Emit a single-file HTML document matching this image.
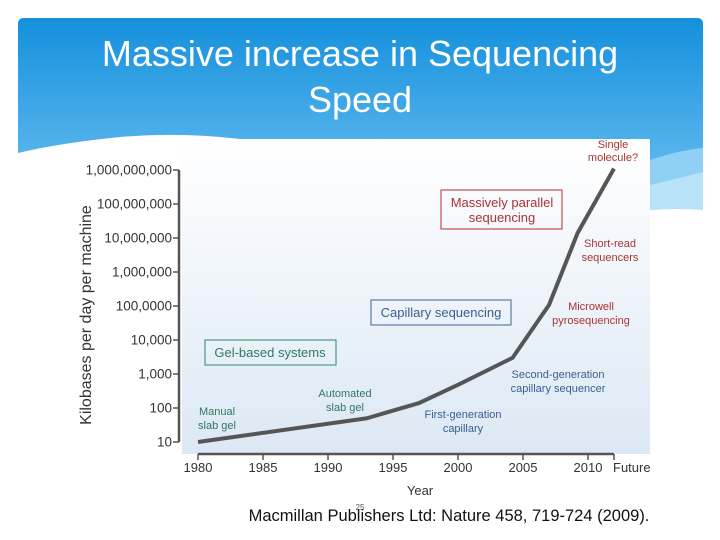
<!DOCTYPE html>
<html><head><meta charset="utf-8"><style>
body{margin:0;width:720px;height:540px;overflow:hidden;background:#fff;font-family:"Liberation Sans",sans-serif;}
#slide{position:relative;width:720px;height:540px;}
svg{position:absolute;left:0;top:0;}
</style></head><body>
<div id="slide">
<svg width="720" height="540">
<defs>
<linearGradient id="hdr" x1="0" y1="0" x2="0" y2="1"><stop offset="0" stop-color="#1490dc"/><stop offset="1" stop-color="#66bdf0"/></linearGradient>
<linearGradient id="plot" x1="0" y1="0" x2="0" y2="1"><stop offset="0" stop-color="#ffffff"/><stop offset="1" stop-color="#dce8f4"/></linearGradient>
</defs>
<path d="M18,24 Q18,18 24,18 L697,18 Q703,18 703,24 L703,190 L650,190 L650,139 L240,139 Q180,132 120,137 Q60,143 18,153 Z" fill="url(#hdr)"/>
<path d="M650,160 Q680,150 703,148 L703,190 L650,190 Z" fill="#8fd0f4"/>
<path d="M650,185 Q680,178 703,172 L703,210 Q680,208 650,210 Z" fill="#b8e2f8"/>
<text x="360" y="66" text-anchor="middle" font-size="36" fill="#fff">Massive increase in Sequencing</text>
<text x="360" y="112" text-anchor="middle" font-size="36" fill="#fff">Speed</text>
<rect x="182" y="139" width="468" height="315" fill="url(#plot)"/>
<g id="axes"></g>
<g id="marks"></g>
<text transform="translate(91,315) rotate(-90)" text-anchor="middle" font-size="16" fill="#333">Kilobases per day per machine</text>
<text x="420" y="495" text-anchor="middle" font-size="13" fill="#333">Year</text>
<g font-size="12">
<rect x="441" y="190" width="121" height="39" fill="none" stroke="#c0504d" stroke-width="1.2"/>
<text x="502" y="207" text-anchor="middle" font-size="13" fill="#a33">Massively parallel</text>
<text x="502" y="222" text-anchor="middle" font-size="13" fill="#a33">sequencing</text>
<rect x="371" y="300" width="140" height="25" fill="none" stroke="#5a7ca8" stroke-width="1.2"/>
<text x="441" y="317" text-anchor="middle" font-size="13" fill="#3a5f8f">Capillary sequencing</text>
<rect x="205" y="340" width="131" height="25" fill="none" stroke="#4a9a7a" stroke-width="1.2"/>
<text x="270" y="357" text-anchor="middle" font-size="13" fill="#2f7a5c">Gel-based systems</text>
<g font-size="11" text-anchor="middle">
<text x="613" y="148" fill="#a33">Single</text><text x="613" y="161" fill="#a33">molecule?</text>
<text x="610" y="247" fill="#a33">Short-read</text><text x="610" y="261" fill="#a33">sequencers</text>
<text x="591" y="310" fill="#a33">Microwell</text><text x="591" y="324" fill="#a33">pyrosequencing</text>
<text x="558" y="378" fill="#3a5f8f">Second-generation</text><text x="558" y="392" fill="#3a5f8f">capillary sequencer</text>
<text x="463" y="418" fill="#3a5f8f">First-generation</text><text x="463" y="432" fill="#3a5f8f">capillary</text>
<text x="345" y="397" fill="#2f7a5c">Automated</text><text x="345" y="411" fill="#2f7a5c">slab gel</text>
<text x="217" y="415" fill="#2f7a5c">Manual</text><text x="217" y="429" fill="#2f7a5c">slab gel</text>
</g></g>
<text x="360" y="510" text-anchor="middle" font-size="8" fill="#555">25</text>
<text x="449" y="521" text-anchor="middle" font-size="16.5" fill="#111">Macmillan Publishers Ltd: Nature 458, 719-724 (2009).</text>
</svg>
</div>
<script>
const years=[1980,1993,1997,2000,2004.2,2007,2009.2,2012];
const values=[10,50,140,480,3000,107000,14000000,1100000000];
const yTickVals=[10,100,1000,10000,100000,1000000,10000000,100000000,1000000000];
const yTickLabels=["10","100","1,000","10,000","100,0000","1,000,000","10,000,000","100,000,000","1,000,000,000"];
const xTickVals=[1980,1985,1990,1995,2000,2005,2010,2012];
const xTickLabels=["1980","1985","1990","1995","2000","2005","2010","Future"];
const NS="http://www.w3.org/2000/svg";
function xs(y){return 198+(y-1980)*13;}
function ys(v){return 442-(Math.log10(v)-1)*34;}
function mk(t,a,p){const e=document.createElementNS(NS,t);for(const k in a)e.setAttribute(k,a[k]);p.appendChild(e);return e;}
const ax=document.getElementById('axes');
let yl=mk('line',{x1:179,y1:ys(1e9),x2:179,y2:ys(10),stroke:'#555','stroke-width':2.5},ax);


yTickVals.forEach((v,i)=>{
 mk('line',{x1:173,y1:ys(v),x2:179,y2:ys(v),stroke:'#555','stroke-width':1.5},ax);
 const t=mk('text',{x:172,y:ys(v)+4.5,'text-anchor':'end','font-size':13.5,fill:'#333'},ax);
 t.textContent=yTickLabels[i];
 
 
});
let xl=mk('line',{x1:xs(1980),y1:454,x2:xs(2012),y2:454,stroke:'#555','stroke-width':2.5},ax);


xTickVals.forEach((v,i)=>{
 mk('line',{x1:xs(v),y1:454,x2:xs(v),y2:460,stroke:'#555','stroke-width':1.5},ax);
 const t=mk('text',{x:i==7?xs(v)-1:xs(v),y:472,'text-anchor':i==7?'start':'middle','font-size':13,fill:'#333'},ax);
 t.textContent=xTickLabels[i];
 
 
});
const m=document.getElementById('marks');
const pts=years.map((y,i)=>xs(y)+','+ys(values[i])).join(' ');
const pl=mk('polyline',{points:pts,fill:'none',stroke:'#555','stroke-width':4,'stroke-linejoin':'round'},m);


</script>
</body></html>
